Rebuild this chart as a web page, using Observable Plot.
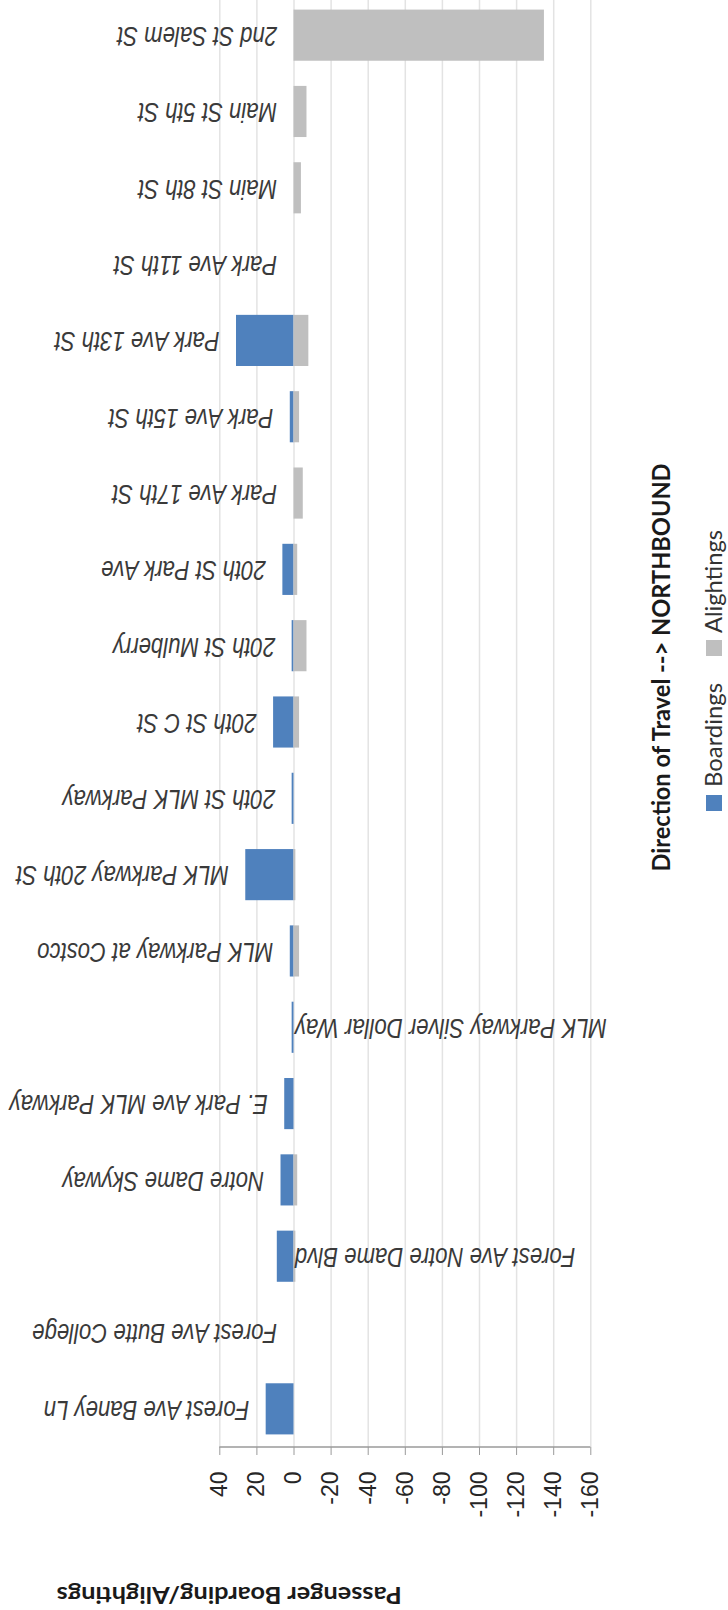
<!DOCTYPE html>
<html>
<head>
<meta charset="utf-8">
<script src="https://cdn.jsdelivr.net/npm/d3@7"></script>
<script src="https://cdn.jsdelivr.net/npm/@observablehq/plot@0.6"></script>
<style>
  html, body { margin: 0; padding: 0; background: #fff; overflow: hidden; }
  #chart svg { display: block; }
</style>
</head>
<body>
<div id="chart"></div>
<script>
// ---- data (route order, northbound) ----
const stops = [
  "Forest Ave Baney Ln",
  "Forest Ave Butte College",
  "Forest Ave Notre Dame Blvd",
  "Notre Dame Skyway",
  "E. Park Ave MLK Parkway",
  "MLK Parkway Silver Dollar Way",
  "MLK Parkway at Costco",
  "MLK Parkway 20th St",
  "20th St MLK Parkway",
  "20th St C St",
  "20th St Mulberry",
  "20th St Park Ave",
  "Park Ave 17th St",
  "Park Ave 15th St",
  "Park Ave 13th St",
  "Park Ave 11th St",
  "Main St 8th St",
  "Main St 5th St",
  "2nd St Salem St"
];
const boardings  = [15, 0, 9, 7, 5, 1, 2, 26, 1, 11, 1, 6, 0, 2, 31, 0, 0, 0, 0];
const alightings = [0, 0, -1, -2, 0, 0, -3, -1, 0, -3, -7, -2, -5, -3, -8, 0, -4, -7, -135];
const tickValues = [40, 20, 0, -20, -40, -60, -80, -100, -120, -140, -160];
const seriesNames = ["Boardings", "Alightings"];
const chartTitle = "Direction of Travel --> NORTHBOUND";
const valueAxisTitle = "Passenger Boarding/Alightings";
const labelsBeyondZero = ["Forest Ave Notre Dame Blvd", "MLK Parkway Silver Dollar Way"];

// ---- styling ----
const BLUE = "#4F81BD", GRAY = "#BFBFBF";
const W = 728, H = 1610;
const M = {left: 219.3, right: 137.7, top: -3, bottom: 163};
const TICK_FONT = 23;

const rows = stops.map((stop, i) => ({stop, boardings: boardings[i], alightings: alightings[i]}));
const leftRows = rows.filter(d => !labelsBeyondZero.includes(d.stop));
const rightRows = rows.filter(d => labelsBeyondZero.includes(d.stop));

function hasFont(name) {
  const c = document.createElement("canvas").getContext("2d");
  const s = "MLK Parkway Silver Dollar Way";
  c.font = "italic 40px monospace";
  const a = c.measureText(s).width;
  c.font = `italic 40px "${name}", monospace`;
  const b = c.measureText(s).width;
  return Math.abs(a - b) > 0.5;
}
const narrow = hasFont("Liberation Sans Narrow");
const labelFont = narrow ? '"Liberation Sans Narrow", "Liberation Sans", sans-serif' : '"Liberation Sans", Arial, sans-serif';
const uiFont = 'Lato, "Open Sans", sans-serif';

function decorations(...args) {
  const scales = args.find(a => a && typeof a.x === "function");
  const dims = args.find(a => a && typeof a === "object" && "marginBottom" in a && "height" in a);
  const xs = scales ? scales.x : d3.scaleLinear().domain([tickValues[0], tickValues[tickValues.length - 1]]).range([M.left, W - M.right]);
  const yAxis = dims ? dims.height - dims.marginBottom : H - M.bottom;
  const g = d3.create("svg:g");
  // value axis line
  g.append("line")
    .attr("x1", xs(tickValues[0])).attr("x2", xs(tickValues[tickValues.length - 1]))
    .attr("y1", yAxis).attr("y2", yAxis)
    .attr("stroke", "#9a9a9a").attr("stroke-width", 1.5);
  // value axis title (upside down)
  g.append("text")
    .attr("transform", "translate(229.2,1595) rotate(180)")
    .attr("text-anchor", "middle").attr("dy", "0.35em")
    .attr("font-family", uiFont).attr("font-weight", "bold").attr("font-size", 22)
    .attr("fill", "#1a1a1a")
    .attr("textLength", 345).attr("lengthAdjust", "spacingAndGlyphs")
    .text(valueAxisTitle);
  // chart title (vertical)
  g.append("text")
    .attr("transform", "translate(661.7,667.5) rotate(-90)")
    .attr("text-anchor", "middle").attr("dy", "0.35em")
    .attr("font-family", uiFont).attr("font-weight", "bold").attr("font-size", 24)
    .attr("fill", "#1a1a1a")
    .attr("textLength", 408).attr("lengthAdjust", "spacingAndGlyphs")
    .text(chartTitle);
  // legend
  const legend = [
    {name: seriesNames[0], color: BLUE, sq: 795, start: 787, len: 104},
    {name: seriesNames[1], color: GRAY, sq: 640, start: 633, len: 103}
  ];
  for (const l of legend) {
    g.append("rect").attr("x", 706).attr("y", l.sq).attr("width", 16).attr("height", 16).attr("fill", l.color);
    g.append("text")
      .attr("transform", `translate(714,${l.start}) rotate(-90)`)
      .attr("text-anchor", "start").attr("dy", "0.35em")
      .attr("font-family", uiFont).attr("font-size", 23)
      .attr("fill", "#333")
      .attr("textLength", l.len).attr("lengthAdjust", "spacingAndGlyphs")
      .text(l.name);
  }
  return g.node();
}

const labelStyle = {
  fontSize: 27, fontStyle: "italic", fontFamily: labelFont, fill: "#3a3a3a", rotate: 180
};

const chart = Plot.plot({
  width: W, height: H,
  marginLeft: M.left, marginRight: M.right, marginTop: M.top, marginBottom: M.bottom,
  style: {fontFamily: '"Liberation Sans", Arial, sans-serif', background: "#fff", overflow: "visible"},
  x: {domain: [tickValues[0], tickValues[tickValues.length - 1]], label: null},
  y: {domain: stops.slice().reverse(), paddingInner: 0.33, paddingOuter: 0.165, round: false, axis: null},
  marks: [
    Plot.gridX(tickValues, {stroke: "#e3e3e3", strokeOpacity: 1, strokeWidth: 1.5}),
    Plot.barX(rows, {y: "stop", x1: 0, x2: "boardings", fill: BLUE}),
    Plot.barX(rows, {y: "stop", x1: 0, x2: "alightings", fill: GRAY}),
    Plot.axisX(tickValues, {
      anchor: "bottom", tickSize: 8, tickPadding: 16, tickRotate: -90,
      fontSize: TICK_FONT, color: "#262626", stroke: "#9a9a9a", tickFormat: d => String(d), label: null
    }),
    Plot.text(leftRows, {y: "stop", x: "boardings", text: "stop", textAnchor: "start", dx: -17, ...labelStyle}),
    Plot.text(rightRows, {y: "stop", x: 0, text: "stop", textAnchor: "end", dx: 1, ...labelStyle}),
    decorations
  ]
});

document.getElementById("chart").appendChild(chart);

// make sure tick labels use the intended size
chart.querySelectorAll('g[aria-label="x-axis tick label"]').forEach(g => {
  g.setAttribute("font-size", TICK_FONT);
  g.querySelectorAll("text").forEach(t => t.setAttribute("font-size", TICK_FONT));
});

if (!narrow) {
  chart.querySelectorAll('g[aria-label="text"] text').forEach(t => {
    t.setAttribute("transform", (t.getAttribute("transform") || "") + " scale(0.82,1)");
  });
}
</script>
</body>
</html>
